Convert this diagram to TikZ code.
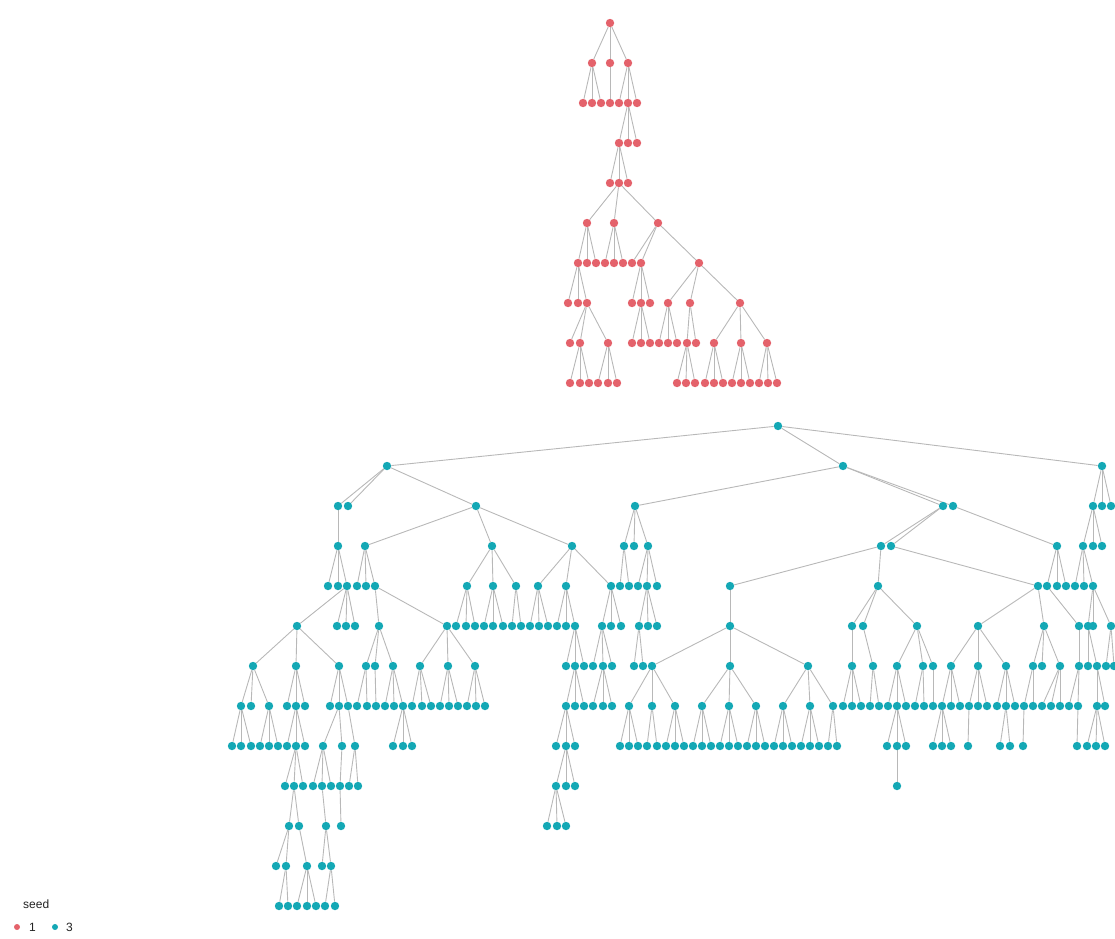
\documentclass[tikz,border=0pt]{standalone}
\usepackage{fontspec}
\setmainfont{Liberation Sans}
\usetikzlibrary{backgrounds}
\definecolor{redseed}{HTML}{E4626B}
\definecolor{blueseed}{HTML}{14A8B5}
\definecolor{edgegray}{HTML}{B8B8B8}
\definecolor{legtext}{HTML}{222222}
\begin{document}
\begin{tikzpicture}[x=1pt,y=-1pt,
  dotr/.style={circle,fill=redseed,draw=none,inner sep=0pt,minimum size=8.4pt},
  dotb/.style={circle,fill=blueseed,draw=none,inner sep=0pt,minimum size=8.4pt},
  legdotr/.style={circle,fill=redseed,draw=none,inner sep=0pt,minimum size=6pt},
  legdotb/.style={circle,fill=blueseed,draw=none,inner sep=0pt,minimum size=6pt},
  edge/.style={draw=edgegray,line width=0.9pt},
  legfont/.style={font=\fontsize{12}{14}\selectfont,text=legtext,inner sep=0pt}]
\useasboundingbox (0,0) rectangle (1115,938);

% ---------------- seed 1 (red) ----------------
\foreach \x in {610} \node[dotr] (r0-\x) at (\x,23) {};
\foreach \x in {592,610,628} \node[dotr] (r1-\x) at (\x,63) {};
\foreach \x in {583,592,601,610,619,628,637} \node[dotr] (r2-\x) at (\x,103) {};
\foreach \x in {619,628,637} \node[dotr] (r3-\x) at (\x,143) {};
\foreach \x in {610,619,628} \node[dotr] (r4-\x) at (\x,183) {};
\foreach \x in {587,614,658} \node[dotr] (r5-\x) at (\x,223) {};
\foreach \x in {578,587,596,605,614,623,632,641,699} \node[dotr] (r6-\x) at (\x,263) {};
\foreach \x in {568,578,587,632,641,650,668,690,740} \node[dotr] (r7-\x) at (\x,303) {};
\foreach \x in {570,580,608,632,641,650,659,668,677,687,696,714,741,767} \node[dotr] (r8-\x) at (\x,343) {};
\foreach \x in {570,580,589,598,608,617,677,686,695,705,714,723,732,741,750,759,768,777} \node[dotr] (r9-\x) at (\x,383) {};

% ---------------- seed 3 (blue) ----------------
\foreach \x in {778} \node[dotb] (b0-\x) at (\x,426) {};
\foreach \x in {387,843,1102} \node[dotb] (b1-\x) at (\x,466) {};
\foreach \x in {338,348,476,635,943,953,1093,1102,1111} \node[dotb] (b2-\x) at (\x,506) {};
\foreach \x in {338,365,492,572,624,634,648,881,891,1057,1083,1093,1102} \node[dotb] (b3-\x) at (\x,546) {};
\foreach \x in {328,338,347,357,366,375,467,493,516,538,566,611,620,629,638,647,657,730,878,1038,1047,1057,1066,1075,1084,1093} \node[dotb] (b4-\x) at (\x,586) {};
\foreach \x in {297,337,346,355,379,447,456,466,475,484,493,503,512,521,530,539,548,557,566,575,602,611,621,639,648,657,730,852,863,917,978,1044,1079,1088,1093,1111} \node[dotb] (b5-\x) at (\x,626) {};
\foreach \x in {253,296,339,366,375,393,420,448,475,566,575,584,593,603,612,634,643,652,730,808,852,873,897,923,933,951,978,1006,1033,1042,1060,1079,1088,1097,1106,1114} \node[dotb] (b6-\x) at (\x,666) {};
\foreach \x in {241,251,269,287,296,305,330,339,348,357,367,376,385,394,403,412,422,431,440,449,458,467,476,485,566,575,584,593,603,612,629,652,675,702,729,756,783,810,833,843,852,861,870,879,888,897,906,915,924,933,942,951,960,969,978,987,997,1006,1015,1024,1033,1042,1051,1060,1069,1078,1097,1105} \node[dotb] (b7-\x) at (\x,706) {};
\foreach \x in {232,241,251,260,269,278,287,296,305,323,342,355,393,403,412,556,566,575,620,629,638,647,657,666,675,684,693,702,711,720,729,738,747,756,765,774,783,792,801,810,819,828,837,887,897,906,933,942,951,968,1000,1010,1023,1077,1087,1096,1105} \node[dotb] (b8-\x) at (\x,746) {};
\foreach \x in {285,294,303,313,322,331,340,349,358,556,566,575,897} \node[dotb] (b9-\x) at (\x,786) {};
\foreach \x in {289,299,326,341,547,557,566} \node[dotb] (b10-\x) at (\x,826) {};
\foreach \x in {276,286,307,322,331} \node[dotb] (b11-\x) at (\x,866) {};
\foreach \x in {279,288,297,307,316,325,335} \node[dotb] (b12-\x) at (\x,906) {};

\begin{pgfonlayer}{background}
% red edges
\foreach \p/\c in {610/592,610/610,610/628} \draw[edge] (r0-\p) -- (r1-\c);
\foreach \p/\c in {592/583,592/592,592/601,610/610,628/619,628/628,628/637} \draw[edge] (r1-\p) -- (r2-\c);
\foreach \p/\c in {628/619,628/628,628/637} \draw[edge] (r2-\p) -- (r3-\c);
\foreach \p/\c in {619/610,619/619,619/628} \draw[edge] (r3-\p) -- (r4-\c);
\foreach \p/\c in {619/587,619/614,619/658} \draw[edge] (r4-\p) -- (r5-\c);
\foreach \p/\c in {587/578,587/587,587/596,614/605,614/614,614/623,658/632,658/641,658/699} \draw[edge] (r5-\p) -- (r6-\c);
\foreach \p/\c in {578/568,578/578,578/587,641/632,641/641,641/650,699/668,699/690,699/740} \draw[edge] (r6-\p) -- (r7-\c);
\foreach \p/\c in {587/570,587/580,587/608,641/632,641/641,641/650,668/659,668/668,668/677,690/687,690/696,740/714,740/741,740/767} \draw[edge] (r7-\p) -- (r8-\c);
\foreach \p/\c in {580/570,580/580,580/589,608/598,608/608,608/617,687/677,687/686,687/695,714/705,714/714,714/723,741/732,741/741,741/750,767/759,767/768,767/777} \draw[edge] (r8-\p) -- (r9-\c);
% blue edges
\foreach \p/\c in {778/387,778/843,778/1102} \draw[edge] (b0-\p) -- (b1-\c);
\foreach \p/\c in {387/338,387/348,387/476,843/635,843/943,843/953,1102/1093,1102/1102,1102/1111} \draw[edge] (b1-\p) -- (b2-\c);
\foreach \p/\c in {338/338,476/365,476/492,476/572,635/624,635/634,635/648,943/881,943/891,953/1057,1093/1083,1093/1093,1093/1102} \draw[edge] (b2-\p) -- (b3-\c);
\foreach \p/\c in {338/328,338/338,338/347,365/357,365/366,365/375,492/467,492/493,492/516,572/538,572/566,572/611,624/620,624/629,648/638,648/647,648/657,881/730,881/878,891/1038,1057/1047,1057/1057,1057/1066,1083/1075,1083/1084,1083/1093} \draw[edge] (b3-\p) -- (b4-\c);
\foreach \p/\c in {347/297,347/337,347/346,347/355,375/379,375/447,467/456,467/466,467/475,493/484,493/493,493/503,516/512,516/521,538/530,538/539,538/548,566/557,566/566,566/575,611/602,611/611,611/621,647/639,647/648,647/657,730/730,878/852,878/863,878/917,1038/978,1038/1044,1047/1079,1093/1088,1093/1093,1093/1111} \draw[edge] (b4-\p) -- (b5-\c);
\foreach \p/\c in {297/253,297/296,297/339,379/366,379/375,379/393,447/420,447/448,447/475,575/566,575/575,575/584,602/593,602/603,602/612,639/634,639/643,730/652,730/730,730/808,852/852,863/873,917/897,917/923,917/933,978/951,978/978,978/1006,1044/1033,1044/1042,1044/1060,1079/1079,1088/1088,1088/1097,1111/1106,1111/1114} \draw[edge] (b5-\p) -- (b6-\c);
\foreach \p/\c in {253/241,253/251,253/269,296/287,296/296,296/305,339/330,339/339,339/348,366/357,366/367,375/376,393/385,393/394,393/403,420/412,420/422,420/431,448/440,448/449,448/458,475/467,475/476,475/485,575/566,575/575,575/584,603/593,603/603,603/612,652/629,652/652,652/675,730/702,730/729,730/756,808/783,808/810,808/833,852/843,852/852,852/861,873/870,873/879,897/888,897/897,897/906,923/915,923/924,933/933,951/942,951/951,951/960,978/969,978/978,978/987,1006/997,1006/1006,1006/1015,1033/1024,1033/1033,1060/1042,1060/1051,1060/1060,1079/1069,1079/1078,1097/1097,1097/1105} \draw[edge] (b6-\p) -- (b7-\c);
\foreach \p/\c in {241/232,241/241,241/251,269/260,269/269,269/278,296/287,296/296,296/305,339/323,339/342,348/355,403/393,403/403,403/412,566/556,566/566,566/575,629/620,629/629,629/638,652/647,652/657,675/666,675/675,675/684,702/693,702/702,702/711,729/720,729/729,729/738,756/747,756/756,756/765,783/774,783/783,783/792,810/801,810/810,810/819,833/828,833/837,897/887,897/897,897/906,942/933,942/942,942/951,969/968,1006/1000,1006/1010,1024/1023,1078/1077,1097/1087,1097/1096,1097/1105} \draw[edge] (b7-\p) -- (b8-\c);
\foreach \p/\c in {296/285,296/294,296/303,323/313,323/322,323/331,342/340,355/349,355/358,566/556,566/566,566/575,897/897} \draw[edge] (b8-\p) -- (b9-\c);
\foreach \p/\c in {294/289,294/299,322/326,340/341,556/547,556/557,556/566} \draw[edge] (b9-\p) -- (b10-\c);
\foreach \p/\c in {289/276,289/286,299/307,326/322,326/331} \draw[edge] (b10-\p) -- (b11-\c);
\foreach \p/\c in {286/279,286/288,307/297,307/307,307/316,331/325,331/335} \draw[edge] (b11-\p) -- (b12-\c);
\end{pgfonlayer}

% ---------------- legend ----------------
\node[legfont,anchor=west] (legtitle) at (23,904) {seed};
\node[legdotr] (legdot1) at (17,927) {};
\node[legfont,anchor=west] (leglab1) at (29,927) {1};
\node[legdotb] (legdot3) at (55,927) {};
\node[legfont,anchor=west] (leglab3) at (66,927) {3};
\end{tikzpicture}
\end{document}
